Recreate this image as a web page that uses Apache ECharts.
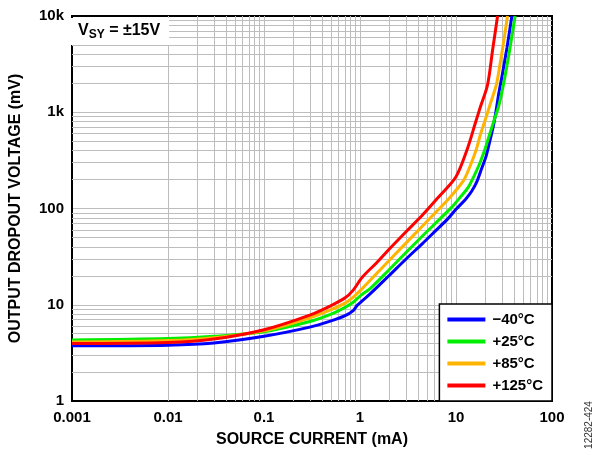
<!DOCTYPE html>
<html>
<head>
<meta charset="utf-8">
<script src="https://cdn.jsdelivr.net/npm/echarts@6.0.0/dist/echarts.min.js"></script>
<style>
  html, body { margin: 0; padding: 0; background: #fff; }
  #chart { width: 600px; height: 455px; }
</style>
</head>
<body>
<div id="chart"></div>
<script>
// series names (legend)
const seriesNames = ['\u221240\u00b0C', '+25\u00b0C', '+85\u00b0C', '+125\u00b0C']
const seriesColors = ['#0000ff', '#00ee00', '#ffb400', '#ff0000']

// source current (mA) / output dropout voltage (mV)
const currentM40 = [0.001, 0.01, 0.03, 0.1, 0.3, 0.5, 0.7, 0.85, 0.94, 1.29, 2, 3, 4.5, 6, 8.3, 10, 12.6, 14.5, 16.5, 18.5, 20.6, 22.5, 24.5, 26, 28, 30.2, 34, 38.2]
const dropoutM40 = [3.75, 3.8, 4.0, 4.7, 5.85, 6.8, 7.7, 8.7, 9.9, 13.1, 20, 29.7, 43.5, 57.5, 79, 98, 125, 150, 190, 260, 350, 500, 720, 1000, 1600, 2400, 4720, 10000]

const current25 = [0.001, 0.01, 0.03, 0.1, 0.3, 0.5, 0.7, 0.85, 1, 1.3, 2, 4.14, 6.9, 9.1, 11, 13.5, 15.5, 17.7, 19.8, 21.8, 24.6, 27.8, 31.4, 36.6, 41.3]
const dropout25 = [4.3, 4.45, 4.7, 5.25, 6.7, 8.0, 9.4, 10.6, 12.3, 15.0, 23, 48, 79, 104, 130, 168, 220, 295, 400, 540, 790, 1150, 2000, 4720, 10000]

const current85 = [0.001, 0.01, 0.03, 0.1, 0.3, 0.5, 0.7, 0.85, 1.06, 2, 3.5, 5.6, 8.5, 12, 14, 16.2, 18, 20.3, 22.5, 26.3, 28.5, 30.7, 34.4]
const dropout85 = [4.1, 4.25, 4.55, 5.35, 7.3, 8.9, 10.4, 12.0, 14.8, 28.7, 51, 83, 128, 196, 275, 405, 590, 850, 1180, 1920, 3000, 4720, 10000]

const current125 = [0.001, 0.01, 0.03, 0.1, 0.3, 0.5, 0.7, 0.85, 1.06, 1.5, 2, 3, 4.5, 6.6, 10, 13, 16, 18, 21.3, 24, 27.1]
const dropout125 = [3.95, 4.05, 4.4, 5.5, 7.8, 9.8, 11.8, 14.2, 19.4, 27.5, 37.5, 57, 86, 132, 214, 405, 787, 1146, 1920, 4360, 10000]

// tick labels
const xTickLabels = ['0.001', '0.01', '0.1', '1', '10', '100']
const yTickLabels = ['1', '10', '100', '1k', '10k']

// minor grid lines at 2..9 of every decade
const xDecades = [0.001, 0.01, 0.1, 1, 10]
const yDecades = [1, 10, 100, 1000]
const minorLines = (decades) => {
  const out = []
  decades.forEach(d => {
    for (let k = 2; k <= 9; k++) out.push(+(d * k).toPrecision(6))
  })
  return out
}

const pairs = (xs, ys) => xs.map((x, i) => [x, ys[i]])

const font = '"Liberation Sans", Arial, sans-serif'
const gridColor = '#bdbdbd'

const chart = echarts.init(document.getElementById('chart'), null, { renderer: 'canvas' })

const curveData = [
  pairs(currentM40, dropoutM40),
  pairs(current25, dropout25),
  pairs(current85, dropout85),
  pairs(current125, dropout125)
]

const curves = curveData.map((d, i) => ({
  name: seriesNames[i],
  type: 'line',
  data: d,
  smooth: 0.3,
  showSymbol: false,
  symbol: 'none',
  lineStyle: { color: seriesColors[i], width: 3 },
  itemStyle: { color: seriesColors[i] },
  emphasis: { disabled: true },
  z: 3
}))

const option = {
  animation: false,
  title: {
    left: 70,
    top: 16,
    text: '{v|V}{s|SY}{v| = \u00b115V}',
    backgroundColor: '#fff',
    padding: [5, 9, 4, 8],
    textStyle: {
      rich: {
        v: { fontFamily: font, fontSize: 16, fontWeight: 'bold', color: '#000', lineHeight: 20, verticalAlign: 'middle' },
        s: { fontFamily: font, fontSize: 12, fontWeight: 'bold', color: '#000', lineHeight: 20, verticalAlign: 'bottom' }
      }
    }
  },
  legend: {
    data: seriesNames,
    orient: 'vertical',
    right: 48,
    bottom: 54,
    z: 10,
    backgroundColor: '#fff',
    borderColor: '#000',
    borderWidth: 1.5,
    borderRadius: 0,
    padding: [8, 9, 8, 8],
    itemGap: 7,
    itemWidth: 38,
    itemHeight: 4,
    icon: 'rect',
    textStyle: { fontFamily: font, fontSize: 15, fontWeight: 'bold', color: '#000', lineHeight: 14, padding: [0, 0, 0, 2] },
    selectedMode: false
  },
  grid: {
    left: 70,
    right: 48,
    top: 16,
    bottom: 54,
    show: true,
    borderColor: '#000',
    borderWidth: 2,
    backgroundColor: 'transparent'
  },
  xAxis: {
    type: 'log',
    logBase: 10,
    min: 0.001,
    max: 100,
    name: 'SOURCE CURRENT (mA)',
    nameLocation: 'middle',
    nameGap: 31,
    nameTextStyle: { fontFamily: font, fontSize: 16, fontWeight: 'bold', color: '#000' },
    axisLine: { show: true, lineStyle: { color: '#000', width: 2 } },
    axisTick: { show: false },
    axisLabel: {
      margin: 9,
      fontFamily: font,
      fontSize: 15,
      fontWeight: 'bold',
      color: '#000',
      formatter: v => xTickLabels[Math.round(Math.log10(v)) + 3]
    },
    splitLine: { show: true, showMinLine: false, showMaxLine: false, lineStyle: { color: gridColor, width: 1 } }
  },
  yAxis: {
    type: 'log',
    logBase: 10,
    min: 1,
    max: 10000,
    name: 'OUTPUT DROPOUT VOLTAGE (mV)',
    nameLocation: 'middle',
    nameGap: 48,
    nameTextStyle: { fontFamily: font, fontSize: 16, fontWeight: 'bold', color: '#000' },
    axisLine: { show: true, lineStyle: { color: '#000', width: 2 } },
    axisTick: { show: false },
    axisLabel: {
      margin: 8,
      fontFamily: font,
      fontSize: 15,
      fontWeight: 'bold',
      color: '#000',
      formatter: v => yTickLabels[Math.round(Math.log10(v))]
    },
    splitLine: { show: true, showMinLine: false, showMaxLine: false, lineStyle: { color: gridColor, width: 1 } }
  },
  graphic: [
    {
      type: 'text',
      x: 589,
      y: 425,
      rotation: Math.PI / 2,
      style: {
        text: '12282-424',
        fill: '#333',
        font: '10px ' + font,
        align: 'center',
        verticalAlign: 'middle'
      }
    }
  ],
  series: [
    // minor grid (markLine defaults to z 5, keep it under curves and legend)
    {
      name: 'grid',
      type: 'line',
      data: [],
      silent: true,
      z: 1,
      markLine: {
        z: 1,
        silent: true,
        symbol: ['none', 'none'],
        label: { show: false },
        emphasis: { disabled: true },
        lineStyle: { color: gridColor, width: 1, type: 'solid' },
        data: [
          ...minorLines(xDecades).map(v => ({ xAxis: v })),
          ...minorLines(yDecades).map(v => ({ yAxis: v }))
        ]
      }
    },
    ...curves
  ]
}

chart.setOption(option)
</script>
</body>
</html>
